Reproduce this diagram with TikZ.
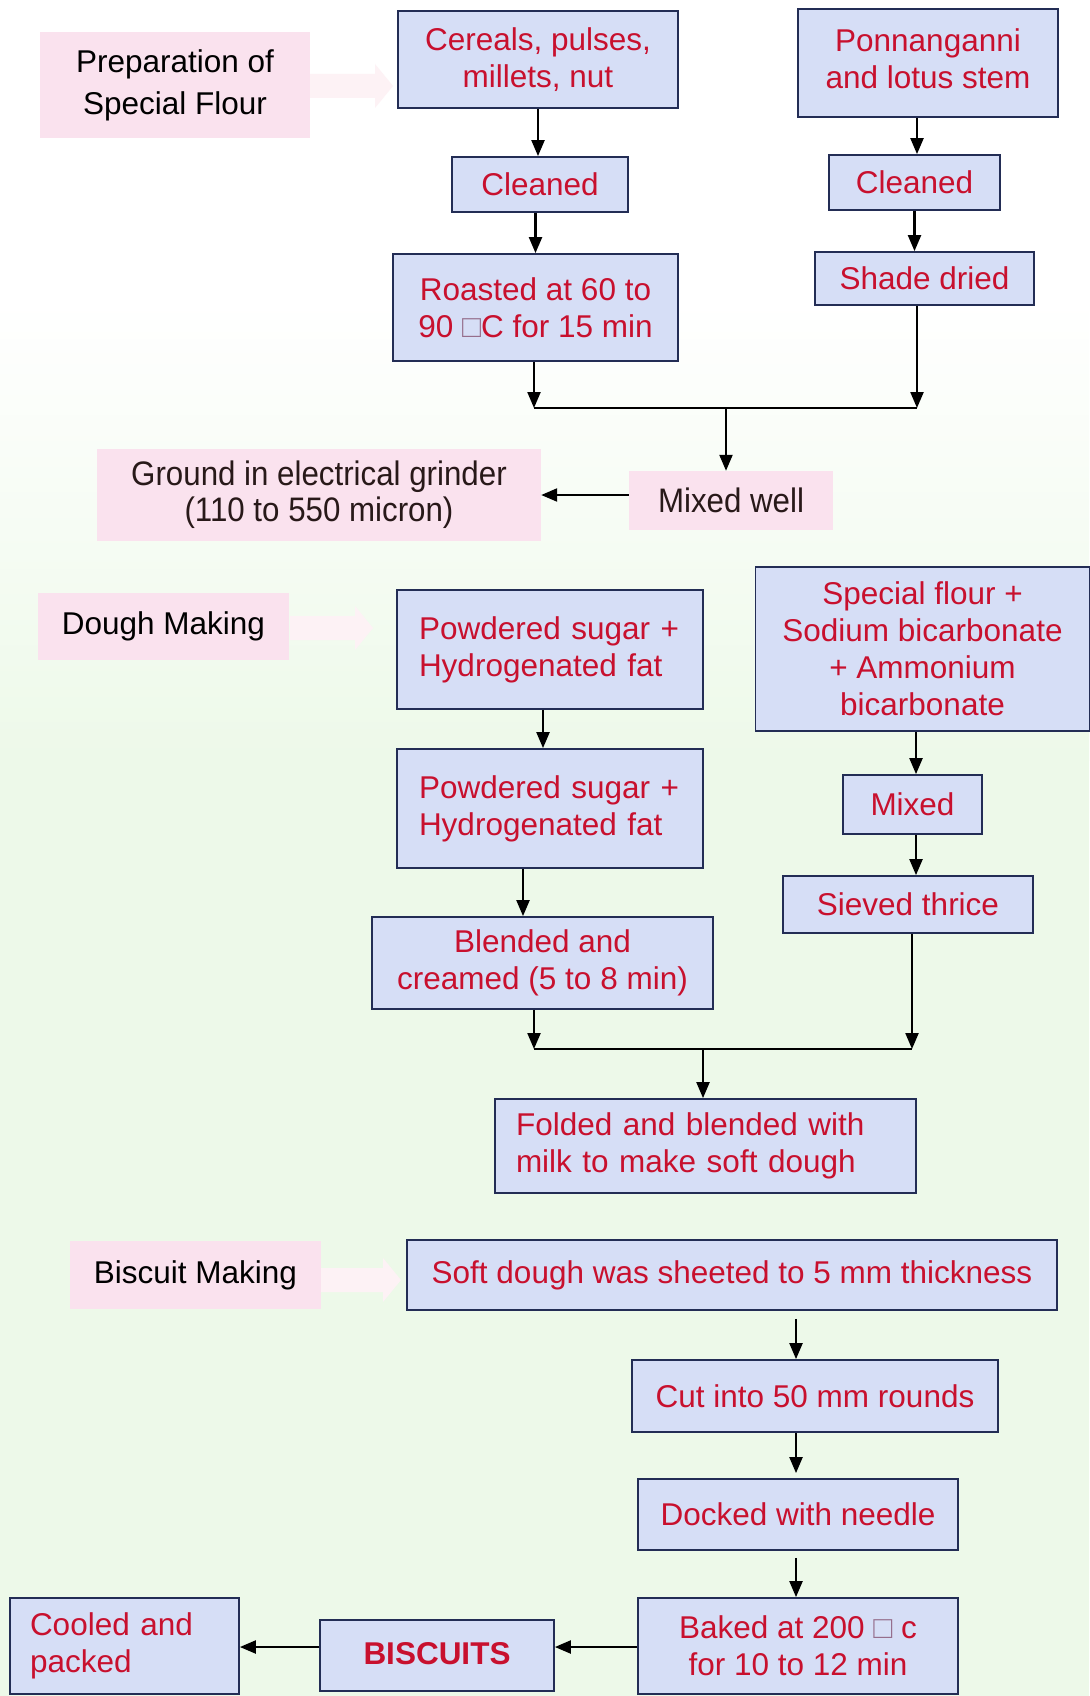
\documentclass[tikz,border=0pt]{standalone}
\usepackage{fontspec}
\setmainfont{Liberation Sans}
\newfontfamily\narrowfont[FakeStretch=0.92]{Liberation Sans}
\usetikzlibrary{arrows.meta}

\definecolor{boxfill}{RGB}{214,222,246}
\definecolor{boxline}{RGB}{35,45,85}
\definecolor{stepred}{RGB}{200,16,46}
\definecolor{labelpink}{RGB}{250,226,238}
\definecolor{hintpink}{RGB}{253,242,245}
\definecolor{bggreen}{RGB}{237,249,233}
\definecolor{degboxcol}{RGB}{150,110,140}

\newcommand{\degsq}{\textcolor{degboxcol}{□}}

\begin{document}
\begin{tikzpicture}[x=1pt,y=-1pt,
  stepbox/.style={draw=boxline,line width=1.8pt,fill=boxfill,text=stepred,
    align=center,inner sep=0pt,font=\fontsize{31.5}{37}\selectfont},
  labelbox/.style={fill=labelpink,text=black,align=center,inner sep=0pt,
    font=\fontsize{31.5}{42}\selectfont},
  dims/.style 2 args={minimum width=#1pt,minimum height=#2pt},
  arr/.style={-{Triangle[length=16pt,width=13pt]},line width=2.2pt,black},
  link/.style={line width=2.2pt,black}]

% background: white at the top fading into pale green
\useasboundingbox (0,0) rectangle (1089,1696);
\fill[white] (0,0) rectangle (1089,300);
\shade[top color=white,bottom color=bggreen] (0,300) rectangle (1089,760);
\fill[bggreen] (0,760) rectangle (1089,1696);

% faint hint arrows beside the section labels
\fill[hintpink] (310,74) -- (375,74) -- (375,64) -- (393,86) -- (375,108) -- (375,98) -- (310,98) -- cycle;
\fill[hintpink] (290,616) -- (355,616) -- (355,606) -- (373,628) -- (355,650) -- (355,640) -- (290,640) -- cycle;
\fill[hintpink] (321,1268) -- (383,1268) -- (383,1258) -- (401,1280) -- (383,1302) -- (383,1292) -- (321,1292) -- cycle;

% ---------- Preparation of special flour ----------
\node[labelbox,dims={270}{106}] (prep) at (175,85) {Preparation of\\Special Flour};
\node[stepbox,dims={280}{97}] (cereal) at (538,59.5) {Cereals, pulses,\\millets, nut};
\node[stepbox,dims={260}{108}] (ponn) at (928,63) {\raisebox{3pt}{\begin{tabular}{@{}c@{}}Ponnanganni\\and lotus stem\end{tabular}}};
\node[stepbox,dims={176}{55}] (clean1) at (540,184.5) {Cleaned};
\node[stepbox,dims={171}{55}] (clean2) at (914.5,182.5) {Cleaned};
\node[stepbox,dims={285}{107}] (roast) at (535.5,307.5) {Roasted at 60 to\\90 \degsq C for 15 min};
\node[stepbox,dims={219}{53}] (shade) at (924.5,278.5) {Shade dried};
\node[labelbox,dims={204}{59},text={rgb,255:red,40;green,25;blue,25},
  font=\narrowfont\fontsize{34}{36}\selectfont] (mixwell) at (731,500.5) {Mixed well};
\node[labelbox,dims={444}{92},text={rgb,255:red,40;green,25;blue,25},
  font=\narrowfont\fontsize{34}{36}\selectfont] (ground) at (319,495) {Ground in electrical grinder\\(110 to 550 micron)};

\coordinate (j1) at (534,408);
\coordinate (j2) at (917,408);
\coordinate (jm) at (726,408);
\coordinate (yg) at (0,495);

\draw[arr] (cereal.south) -- (cereal.south |- clean1.north);
\draw[arr] (roast.north |- clean1.south) -- (roast.north);
\draw[arr] (ponn.south -| j2) -- (clean2.north -| j2);
\draw[arr] (clean2.south) -- (clean2.south |- shade.north);
\draw[arr] (roast.south -| j1) -- (j1);
\draw[arr] (shade.south -| j2) -- (j2);
\draw[link] (j1) -- (j2);
\draw[arr] (jm) -- (mixwell.north -| jm);
\draw[arr] (mixwell.west |- yg) -- (ground.east |- yg);

% ---------- Dough making ----------
\node[labelbox,dims={251}{67}] (dough) at (163.5,626.5) {Dough Making};
\node[stepbox,dims={306}{119},text width=262pt,align=left] (ps1) at (550,649.5) {Powdered sugar +\\Hydrogenated fat};
\node[stepbox,dims={334}{164}] (sf) at (922.5,649) {Special flour +\\Sodium bicarbonate\\+ Ammonium\\bicarbonate};
\node[stepbox,dims={306}{119},text width=262pt,align=left] (ps2) at (550,808.5) {Powdered sugar +\\Hydrogenated fat};
\node[stepbox,dims={139}{59}] (mixed) at (912.5,804.5) {Mixed};
\node[stepbox,dims={250}{57}] (sieve) at (908,904.5) {Sieved thrice};
\node[stepbox,dims={341}{92}] (blend) at (542.5,963) {Blended and\\creamed (5 to 8 min)};
\node[stepbox,dims={421}{94},text width=379pt,align=left] (fold) at (705.5,1146) {Folded and blended with\\milk to make soft dough};

\coordinate (xa) at (543,0);
\coordinate (xb) at (523,0);
\coordinate (xc) at (916,0);
\coordinate (k1) at (534,1049);
\coordinate (k2) at (912,1049);
\coordinate (km) at (703,1049);

\draw[arr] (ps1.south -| xa) -- (ps2.north -| xa);
\draw[arr] (ps2.south -| xb) -- (blend.north -| xb);
\draw[arr] (sf.south -| xc) -- (mixed.north -| xc);
\draw[arr] (mixed.south -| xc) -- (sieve.north -| xc);
\draw[arr] (blend.south -| k1) -- (k1);
\draw[arr] (sieve.south -| k2) -- (k2);
\draw[link] (k1) -- (k2);
\draw[arr] (km) -- (fold.north -| km);

% ---------- Biscuit making ----------
\node[labelbox,dims={251}{68}] (biscmk) at (195.5,1275) {Biscuit Making};
\node[stepbox,dims={650}{70}] (soft) at (732,1275) {Soft dough was sheeted to 5 mm thickness};
\node[stepbox,dims={366}{72}] (cut) at (815,1396) {Cut into 50 mm rounds};
\node[stepbox,dims={320}{71}] (dock) at (798,1514.5) {Docked with needle};
\node[stepbox,dims={320}{96}] (bake) at (798,1646) {Baked at 200 \degsq\ c\\for 10 to 12 min};
\node[stepbox,dims={234}{71},font=\bfseries\fontsize{31.5}{37}\selectfont] (bisc) at (437,1655.5) {\raisebox{4pt}{BISCUITS}};
\node[stepbox,dims={229}{96},text width=189pt,align=left] (cool) at (124.5,1646) {Cooled and\\packed};

\coordinate (xd) at (796,0);
\coordinate (ye) at (0,1647);

\draw[arr] ([yshift=-8pt]soft.south -| xd) -- (cut.north -| xd);
\draw[arr] (cut.south -| xd) -- ([yshift=5pt]dock.north -| xd);
\draw[arr] ([yshift=-7pt]dock.south -| xd) -- (bake.north -| xd);
\draw[arr] (bake.west |- ye) -- (bisc.east |- ye);
\draw[arr] (bisc.west |- ye) -- (cool.east |- ye);

\end{tikzpicture}
\end{document}
